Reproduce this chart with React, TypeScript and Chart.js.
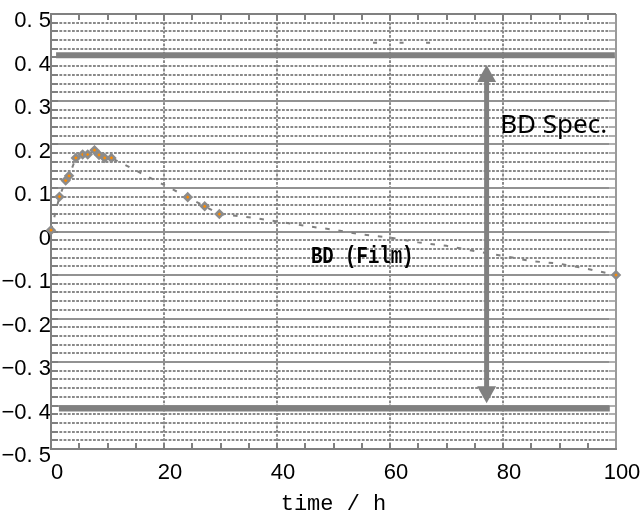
import React, { useEffect, useRef } from "react";
import { Chart, registerables } from "chart.js";

Chart.register(...registerables);

// Marked measurement points (orange diamonds)
const markedHours = [0, 1.5, 2.6, 3.2, 4.4, 5.6, 6.5, 7.7, 8.5, 9.5, 10.7, 24.2, 27.2, 29.8, 100];
const markedBD = [0.003, 0.08, 0.117, 0.128, 0.169, 0.177, 0.177, 0.187, 0.176, 0.169, 0.169, 0.079, 0.058, 0.04, -0.1];

// Dashed trend of the whole series
const trendHours = [0, 1.5, 2.6, 3.2, 4.4, 5.6, 6.5, 7.7, 8.5, 9.5, 10.7, 24.2, 27.2, 29.8, 35, 40, 45, 50, 55, 60, 65, 70, 75, 80, 85, 90, 95, 100];
const trendBD = [0.003, 0.08, 0.117, 0.128, 0.169, 0.177, 0.177, 0.187, 0.176, 0.169, 0.169, 0.079, 0.058, 0.04, 0.033, 0.023, 0.013, 0.004, -0.007, -0.014, -0.025, -0.033, -0.045, -0.056, -0.068, -0.074, -0.086, -0.1];

// Short dashed segment near the top
const upperDashHours = [57, 67.1];
const upperDashBD = [0.434, 0.434];

// BD specification limits
const specUpperHours = [0.9, 99.8];
const specUpperBD = [0.405, 0.405];
const specLowerHours = [1.4, 98.9];
const specLowerBD = [-0.407, -0.407];

// Double arrow marking the spec window
const arrowHour = 77.1;
const arrowTopBD = 0.383;
const arrowBottomBD = -0.395;

// Annotations (data coordinates)
const specLabel = "BD Spec.";
const specLabelHour = 79.5;
const specLabelBD = 0.227;
const filmLabel = "BD (Film)";
const filmLabelHour = 46;
const filmLabelBD = -0.073;

// Axis setup
const xMin = 0;
const xMax = 100;
const xMajorStep = 20;
const xMinorStep = 5;
const yMin = -0.5;
const yMax = 0.5;
const yMajorStep = 0.1;
const yMinorStep = 0.02;
const xTitle = "time / h";

const pts = (xs: number[], ys: number[]) => xs.map((x, i) => ({ x, y: ys[i] }));

const GRID = "#8a8a8a";

const decorPlugin = {
  id: "decor",
  beforeDatasetsDraw(chart: any) {
    const { ctx, chartArea: a, scales } = chart;
    const x = scales.x;
    const y = scales.y;
    ctx.save();
    // minor dotted horizontal
    ctx.lineWidth = 2;
    ctx.strokeStyle = GRID;
    ctx.setLineDash([2.8, 1.4]);
    const nMinor = Math.round((yMax - yMin) / yMinorStep);
    const ratio = Math.round(yMajorStep / yMinorStep);
    for (let i = 1; i < nMinor; i++) {
      if (i % ratio === 0) continue;
      const py = Math.round(y.getPixelForValue(yMin + i * yMinorStep));
      ctx.beginPath();
      ctx.moveTo(a.left, py);
      ctx.lineTo(a.right, py);
      ctx.stroke();
    }
    // vertical dotted majors
    for (let v = xMin + xMajorStep; v < xMax; v += xMajorStep) {
      const px = Math.round(x.getPixelForValue(v));
      ctx.beginPath();
      ctx.moveTo(px, a.top);
      ctx.lineTo(px, a.bottom);
      ctx.stroke();
    }
    ctx.setLineDash([]);
    // major solid horizontal
    ctx.strokeStyle = "#929292";
    const nMajor = Math.round((yMax - yMin) / yMajorStep);
    for (let i = 1; i < nMajor; i++) {
      const py = Math.round(y.getPixelForValue(yMin + i * yMajorStep));
      ctx.beginPath();
      ctx.moveTo(a.left, py);
      ctx.lineTo(a.right, py);
      ctx.stroke();
    }
    // tick marks
    ctx.strokeStyle = "#808080";
    for (let v = xMin + xMinorStep; v < xMax; v += xMinorStep) {
      const px = Math.round(x.getPixelForValue(v));
      ctx.beginPath();
      ctx.moveTo(px, a.bottom);
      ctx.lineTo(px, a.bottom - 6);
      ctx.moveTo(px, a.top);
      ctx.lineTo(px, a.top + 6);
      ctx.stroke();
    }
    for (let i = 1; i < nMinor; i++) {
      const py = Math.round(y.getPixelForValue(yMin + i * yMinorStep));
      ctx.strokeStyle = "#808080";
      ctx.beginPath();
      ctx.moveTo(a.left, py);
      ctx.lineTo(a.left + 7, py);
      ctx.stroke();
      ctx.strokeStyle = "#b0b0b0";
      ctx.beginPath();
      ctx.moveTo(a.right, py);
      ctx.lineTo(a.right - 7, py);
      ctx.stroke();
    }
    // frame
    ctx.strokeStyle = "#9a9a9a";
    ctx.beginPath();
    ctx.moveTo(Math.round(a.right), a.top);
    ctx.lineTo(Math.round(a.right), a.bottom);
    ctx.stroke();
    ctx.strokeStyle = "#808080";
    ctx.beginPath();
    ctx.moveTo(Math.round(a.left), Math.round(a.top));
    ctx.lineTo(Math.round(a.right), Math.round(a.top));
    ctx.moveTo(Math.round(a.left), a.top - 1);
    ctx.lineTo(Math.round(a.left), Math.round(a.bottom));
    ctx.lineTo(Math.round(a.right) + 1, Math.round(a.bottom));
    ctx.stroke();
    ctx.restore();
  },
  afterDatasetsDraw(chart: any) {
    const { ctx, scales } = chart;
    const x = scales.x;
    const y = scales.y;
    ctx.save();
    // double arrow
    const ax = x.getPixelForValue(arrowHour);
    const yt = y.getPixelForValue(arrowTopBD);
    const yb = y.getPixelForValue(arrowBottomBD);
    const headH = 17;
    const headW = 19;
    ctx.fillStyle = "#808080";
    ctx.strokeStyle = "#808080";
    ctx.lineWidth = 5;
    ctx.beginPath();
    ctx.moveTo(ax, yt + headH - 1);
    ctx.lineTo(ax, yb - headH + 1);
    ctx.stroke();
    ctx.beginPath();
    ctx.moveTo(ax, yt);
    ctx.lineTo(ax - headW / 2, yt + headH);
    ctx.lineTo(ax + headW / 2, yt + headH);
    ctx.closePath();
    ctx.fill();
    ctx.beginPath();
    ctx.moveTo(ax, yb);
    ctx.lineTo(ax - headW / 2, yb - headH);
    ctx.lineTo(ax + headW / 2, yb - headH);
    ctx.closePath();
    ctx.fill();
    // labels
    ctx.fillStyle = "#000";
    ctx.textAlign = "left";
    ctx.textBaseline = "alphabetic";
    ctx.font = '26px "Noto Sans"';
    ctx.fillText(specLabel, x.getPixelForValue(specLabelHour), y.getPixelForValue(specLabelBD));
    // tall condensed gothic look: stretch vertically
    const fx = x.getPixelForValue(filmLabelHour);
    const fy = y.getPixelForValue(filmLabelBD);
    ctx.translate(fx, fy);
    ctx.scale(1, 1.25);
    ctx.font = 'bold 19px "Liberation Mono"';
    ctx.fillText(filmLabel, 0, 0);
    ctx.restore();
  },
};

export default function App() {
  const ref = useRef<HTMLCanvasElement | null>(null);
  useEffect(() => {
    document.body.style.margin = "0";
    const canvas = ref.current;
    if (!canvas) return;
    const chart = new Chart(canvas, {
      type: "scatter",
      data: {
        datasets: [
          {
            label: "marked",
            data: pts(markedHours, markedBD),
            showLine: false,
            clip: false,
            pointStyle: "rectRot",
            pointRadius: 3.5,
            pointBorderWidth: 2.5,
            pointBackgroundColor: "#ff8c00",
            pointBorderColor: "#8c8c8c",
          },
          {
            label: "trend",
            data: pts(trendHours, trendBD),
            showLine: true,
            pointRadius: 0,
            borderColor: "#808080",
            borderWidth: 2,
            borderDash: [4.5, 8.8],
          },
          {
            label: "upper dash",
            data: pts(upperDashHours, upperDashBD),
            showLine: true,
            pointRadius: 0,
            borderColor: "#808080",
            borderWidth: 2,
            borderDash: [4, 22.5],
          },
          {
            label: "spec upper",
            data: pts(specUpperHours, specUpperBD),
            showLine: true,
            pointRadius: 0,
            borderColor: "#808080",
            borderWidth: 6,
          },
          {
            label: "spec lower",
            data: pts(specLowerHours, specLowerBD),
            showLine: true,
            pointRadius: 0,
            borderColor: "#808080",
            borderWidth: 6,
          },
        ],
      },
      options: {
        animation: false,
        responsive: false,
        layout: { padding: { top: 14, right: 24, left: 0, bottom: 0 } },
        plugins: { legend: { display: false }, tooltip: { enabled: false } },
        scales: {
          x: {
            type: "linear",
            min: xMin,
            max: xMax,
            grid: { display: false, drawTicks: false },
            border: { display: false },
            ticks: {
              stepSize: xMajorStep,
              color: "#000",
              font: { family: "Liberation Sans", size: 22 },
              padding: 11,
              labelOffset: 6,
              maxRotation: 0,
              autoSkip: false,
            },
            title: {
              display: true,
              text: xTitle,
              color: "#000",
              font: { family: "Liberation Mono", size: 22 },
              padding: { top: 0, bottom: -3 },
            },
            afterFit: (s: any) => {
              s.height = 65;
              s.paddingLeft = 0;
              s.paddingRight = 0;
            },
          },
          y: {
            type: "linear",
            min: yMin,
            max: yMax,
            grid: { display: false, drawTicks: false },
            border: { display: false },
            ticks: {
              stepSize: yMajorStep,
              color: "#000",
              font: { family: "Liberation Sans", size: 22 },
              padding: 0,
              labelOffset: 7,
              autoSkip: false,
              callback: (v: any) => {
                const n = Math.round(Number(v) * 10);
                if (n === 0) return "0";
                return (n < 0 ? "\u2212" : "") + "0. " + Math.abs(n);
              },
            },
            afterFit: (s: any) => {
              s.width = 51;
              s.paddingTop = 0;
              s.paddingBottom = 0;
            },
          },
        },
      },
      plugins: [decorPlugin],
    } as any);
    return () => chart.destroy();
  }, []);
  return (
    <div style={{ width: 640, height: 514 }}>
      <canvas ref={ref} width={640} height={514} style={{ display: "block" }} />
    </div>
  );
}
